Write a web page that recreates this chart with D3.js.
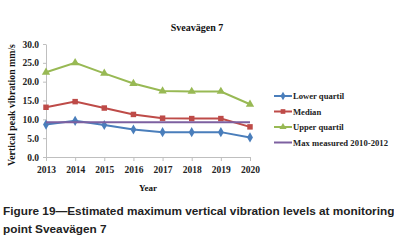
<!DOCTYPE html>
<html>
<head>
<script src="https://d3js.org/d3.v7.min.js"></script>
<style>
  body { margin: 0; background: #fff; }
</style>
</head>
<body>
<svg id="chart"></svg>
<script>
// data
var years = [2013, 2014, 2015, 2016, 2017, 2018, 2019, 2020];
var lowerQuartil = [8.6, 9.6, 8.5, 7.3, 6.6, 6.6, 6.6, 5.2];
var median = [13.2, 14.7, 13.0, 11.3, 10.3, 10.2, 10.2, 8.0];
var upperQuartil = [22.5, 25.0, 22.2, 19.5, 17.5, 17.4, 17.4, 14.0];
var maxMeasured = [9.2, 9.2, 9.2, 9.2, 9.2, 9.2, 9.2, 9.2];
var yTicks = [0, 5, 10, 15, 20, 25, 30];

var series = [
  { name: "Lower quartil", values: lowerQuartil, color: "#4a7ebb", symbol: d3.symbolDiamond, size: 30 },
  { name: "Median", values: median, color: "#be4b48", symbol: d3.symbolSquare, size: 30 },
  { name: "Upper quartil", values: upperQuartil, color: "#98b954", symbol: d3.symbolTriangle, size: 30 },
  { name: "Max measured 2010-2012", values: maxMeasured, color: "#7d60a0", symbol: null }
];

var W = 394, H = 244;
var margin = { top: 44, left: 46, right: 144, bottom: 87 };

var svg = d3.select("#chart").attr("width", W).attr("height", H);

var x = d3.scalePoint()
  .domain(years)
  .range([margin.left, W - margin.right]);

var y = d3.scaleLinear()
  .domain([0, 30])
  .range([H - margin.bottom, margin.top]);

var serif = "'Liberation Serif', serif";

// axes
var xAxis = svg.append("g")
  .attr("transform", "translate(0," + (H - margin.bottom) + ")")
  .call(d3.axisBottom(x).tickSizeInner(4).tickSizeOuter(0).tickPadding(5));
var yAxis = svg.append("g")
  .attr("transform", "translate(" + margin.left + ",0)")
  .call(d3.axisLeft(y).tickValues(yTicks).tickFormat(d3.format(".1f")).tickSizeInner(3).tickSizeOuter(0).tickPadding(4));

[xAxis, yAxis].forEach(function(a) {
  a.selectAll("path, line").attr("stroke", "#bfbfbf");
  a.selectAll("text")
    .attr("fill", "#222")
    .style("font-family", serif)
    .style("font-weight", "bold")
    .style("font-size", "9.5px");
});

// lines
var line = d3.line()
  .x(function(d, i) { return x(years[i]); })
  .y(function(d) { return y(d); });

series.forEach(function(s) {
  svg.append("path")
    .datum(s.values)
    .attr("fill", "none")
    .attr("stroke", s.color)
    .attr("stroke-width", 2)
    .attr("d", line);
  if (s.symbol) {
    svg.selectAll(null)
      .data(s.values)
      .enter().append("path")
      .attr("d", d3.symbol().type(s.symbol).size(s.size))
      .attr("fill", s.color)
      .attr("transform", function(d, i) { return "translate(" + x(years[i]) + "," + y(d) + ")"; });
  }
});

// title
svg.append("text")
  .attr("x", 197).attr("y", 31)
  .attr("text-anchor", "middle")
  .style("font-family", serif).style("font-weight", "bold").style("font-size", "10px")
  .attr("fill", "#111")
  .text("Sveavägen 7");

// axis titles
svg.append("text")
  .attr("transform", "translate(15,105) rotate(-90)")
  .attr("text-anchor", "middle")
  .style("font-family", serif).style("font-weight", "bold").style("font-size", "9.8px")
  .attr("fill", "#111")
  .text("Vertical peak vibration mm/s");

svg.append("text")
  .attr("x", 148).attr("y", 191)
  .attr("text-anchor", "middle")
  .style("font-family", serif).style("font-weight", "bold").style("font-size", "9px")
  .attr("fill", "#111")
  .text("Year");

// legend
var legend = svg.append("g").attr("transform", "translate(274,96)");
series.forEach(function(s, i) {
  var g = legend.append("g").attr("transform", "translate(0," + (i * 15.5) + ")");
  g.append("line").attr("x1", 0).attr("x2", 18).attr("stroke", s.color).attr("stroke-width", 2);
  if (s.symbol) {
    g.append("path")
      .attr("d", d3.symbol().type(s.symbol).size(22))
      .attr("fill", s.color)
      .attr("transform", "translate(9,0)");
  }
  g.append("text")
    .attr("x", 19).attr("y", 3)
    .attr("textLength", i === 3 ? 95 : null)
    .style("font-family", serif).style("font-weight", "bold").style("font-size", "8.6px")
    .attr("fill", "#222")
    .text(s.name);
});

// caption
var caption = ["Figure 19\u2014Estimated maximum vertical vibration levels at monitoring", "point Sveavägen 7"];
svg.selectAll(".cap")
  .data(caption)
  .enter().append("text")
  .attr("x", 3)
  .attr("y", function(d, i) { return 215 + i * 18; })
  .style("font-family", "'Liberation Sans', Arial, sans-serif")
  .style("font-weight", "bold")
  .style("font-size", "11.8px")
  .attr("fill", "#222")
  .text(function(d) { return d; });
</script>
</body>
</html>
